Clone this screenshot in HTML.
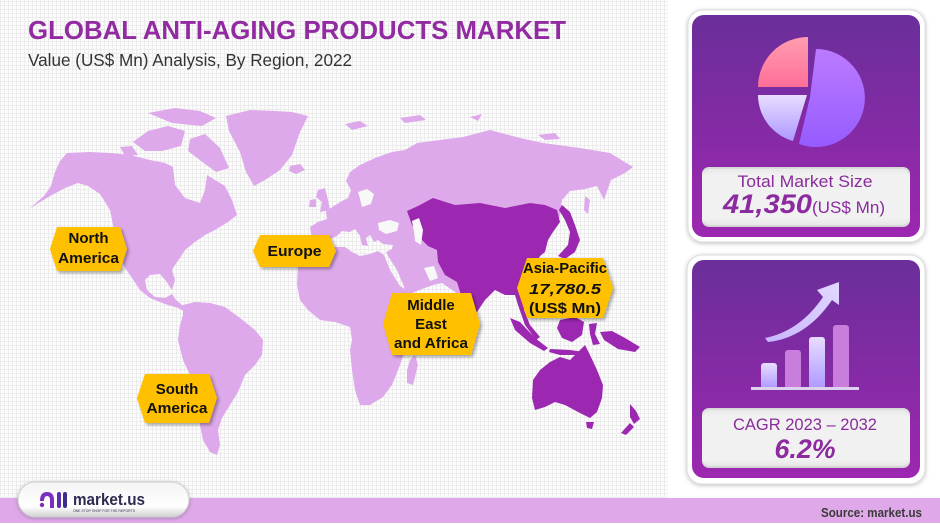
<!DOCTYPE html>
<html><head><meta charset="utf-8">
<style>
html,body{margin:0;padding:0;}
body{width:940px;height:525px;overflow:hidden;background:#fff;position:relative;}
.grid{position:absolute;left:0;top:0;width:668px;height:498px;
background-color:#fcfcfc;
background-image:repeating-linear-gradient(0deg,#ececec 0,#ececec 1px,transparent 1px,transparent 4px),repeating-linear-gradient(90deg,#ececec 0,#ececec 1px,transparent 1px,transparent 4px);}
svg{position:absolute;left:0;top:0;}
text{font-family:"Liberation Sans",sans-serif;}
</style></head>
<body>
<div class="grid"></div>
<svg width="940" height="525" viewBox="0 0 940 525" xmlns="http://www.w3.org/2000/svg">
<defs>
<linearGradient id="card" x1="0" y1="0" x2="0" y2="1">
<stop offset="0" stop-color="#6a2e9a"/><stop offset="1" stop-color="#9d27b0"/>
</linearGradient>
<linearGradient id="pink" x1="0" y1="0" x2="0" y2="1">
<stop offset="0" stop-color="#ff9db0"/><stop offset="1" stop-color="#ff6f98"/>
</linearGradient>
<linearGradient id="lav" x1="0" y1="0" x2="0" y2="1">
<stop offset="0" stop-color="#e8ddff"/><stop offset="1" stop-color="#ad98ff"/>
</linearGradient>
<linearGradient id="vio" x1="0" y1="0" x2="0" y2="1">
<stop offset="0" stop-color="#bb7bff"/><stop offset="1" stop-color="#965bff"/>
</linearGradient>
<linearGradient id="arrow" x1="0" y1="1" x2="1" y2="0">
<stop offset="0" stop-color="#c8b6ff"/><stop offset="1" stop-color="#e2d8ff"/>
</linearGradient>
<linearGradient id="box" x1="0" y1="0" x2="0" y2="1">
<stop offset="0" stop-color="#d6d6d6"/><stop offset="0.15" stop-color="#f1f1f1"/><stop offset="0.85" stop-color="#f1f1f1"/><stop offset="1" stop-color="#d0d0d0"/>
</linearGradient>
<linearGradient id="pill" x1="0" y1="0" x2="0" y2="1">
<stop offset="0" stop-color="#f4f4f4"/><stop offset="0.7" stop-color="#ffffff"/><stop offset="1" stop-color="#cfcfcf"/>
</linearGradient>
<filter id="sh" x="-20%" y="-20%" width="150%" height="150%">
<feDropShadow dx="2" dy="2" stdDeviation="1.5" flood-color="#000" flood-opacity="0.35"/>
</filter>
<filter id="sh2" x="-10%" y="-10%" width="120%" height="120%">
<feDropShadow dx="0" dy="1" stdDeviation="2" flood-color="#000" flood-opacity="0.25"/>
</filter>
</defs>

<!-- Title -->
<text x="28" y="39" font-size="26" font-weight="bold" fill="#922aa1" textLength="538" lengthAdjust="spacingAndGlyphs">GLOBAL ANTI-AGING PRODUCTS MARKET</text>
<text x="28" y="66" font-size="17.5" fill="#333" textLength="324" lengthAdjust="spacingAndGlyphs">Value (US$ Mn) Analysis, By Region, 2022</text>

<!-- MAP light -->
<g fill="#dea9ea">
<!-- North America -->
<polygon points="67,153 90,152 110,153 130,155 150,160 165,163 173,167 175,185 185,198 200,203 205,190 207,175 215,180 225,186 232,200 237,215 228,222 215,230 205,235 195,242 185,250 180,258 175,265 172,270 175,280 172,290 166,281 160,274 150,275 145,280 147,290 155,297 165,298 172,294 176,300 182,305 190,307 196,312 189,314 178,308 165,304 150,298 140,290 132,278 125,268 120,255 117,240 113,225 110,210 100,194 88,186 78,183 65,188 52,195 40,202 29,209 44,196 51,186 55,172 60,161"/>
<!-- Arctic islands -->
<polygon points="133,142 148,131 168,126 185,131 181,146 162,151 145,151"/>
<polygon points="148,113 175,108 200,111 216,118 202,126 172,123"/>
<polygon points="190,139 205,134 220,148 229,168 216,172 201,161 188,151"/>
<polygon points="120,147 132,146 138,155 125,156"/>
<!-- Greenland -->
<polygon points="226,116 250,110 275,111 292,112 308,116 300,132 292,155 280,170 265,180 254,186 246,172 240,152 229,131"/>
<!-- Iceland -->
<polygon points="290,166 300,164 305,170 296,174 289,171"/>
<!-- UK/Ireland -->
<polygon points="318,190 325,188 328,200 330,210 320,212 322,202 316,197"/>
<polygon points="310,200 316,199 316,207 309,207"/>
<!-- Eurasia -->
<polygon points="312,239 310,227 318,222 327,219 326,211 334,206 342,201 348,198 351,190 346,181 350,172 360,165 375,158 392,152 405,150 417,143 440,140 463,137 490,130 520,138 543,143 580,148 610,153 633,167 625,173 611,180 604,200 597,186 585,189 570,191 562,200 560,215 557,225 548,235 543,240 540,250 530,265 470,282 463,300 455,292 442,283 433,285 422,289 410,294 405,289 397,270 388,256 386,252 392,249 393,245 383,244 378,240 374,242 370,235 366,238 368,246 362,245 360,236 355,229 350,232 342,231 337,236 327,240 318,241"/>
<!-- Arctic islands Eurasia -->
<polygon points="345,124 360,121 368,126 352,130"/>
<polygon points="400,118 420,115 426,120 405,123"/>
<polygon points="470,117 482,114 478,121"/>
<polygon points="538,135 555,133 560,139 545,140"/>
<!-- Africa -->
<polygon points="298,266 301,257 310,251 322,248 335,247 345,247 352,252 360,256 370,254 378,251 384,255 390,270 400,286 410,292 415,298 428,298 420,315 410,330 407,345 400,365 392,385 383,397 370,405 360,405 355,390 352,370 350,350 352,340 350,327 335,322 320,320 308,310 300,300 297,285"/>
<polygon points="410,360 415,355 418,365 413,385 407,383 407,370"/>
<!-- South America -->
<polygon points="183,305 195,302 210,303 225,307 240,318 255,330 263,340 262,355 255,365 245,375 238,392 230,405 222,418 218,430 220,445 217,455 210,452 203,440 200,425 198,405 197,395 190,375 183,360 178,340 180,325 183,315"/>
<!-- Sakhalin -->
<polygon points="585,196 590,200 588,214 584,210"/>
</g>
<!-- inland water (Baltic, Black Sea) -->
<g fill="#f8f8f8">
<polygon points="358,192 367,189 374,194 371,204 362,207 360,199"/>
<polygon points="378,223 390,220 399,223 397,231 386,234 379,230"/>
<polygon points="424,268 434,266 438,278 430,281"/>
</g>

<!-- MAP dark Asia-Pacific -->
<g fill="#9c27b0">
<polygon points="407,211 418,206 433,198 455,205 480,203 505,208 530,203 545,205 557,210 560,222 553,232 548,240 545,252 540,256 537,262 533,270 528,280 520,285 530,285 540,290 545,305 538,315 530,312 527,302 524,310 530,325 540,337 536,340 525,325 518,305 515,295 505,295 495,290 485,300 475,315 468,325 463,310 461,295 457,282 445,275 438,262 437,250 428,246 420,238 412,225"/>
<!-- Japan -->
<polygon points="562,205 570,212 575,225 580,240 575,252 565,259 558,256 568,245 570,232 565,220 559,210"/>
<!-- Taiwan -->
<polygon points="545,280 549,279 548,288 544,287"/>
<!-- Philippines -->
<polygon points="558,288 566,290 570,302 575,312 568,316 562,305 557,296"/>
<!-- Sumatra -->
<polygon points="510,318 520,322 535,338 548,348 544,351 530,343 515,330"/>
<!-- Java -->
<polygon points="550,349 570,350 584,352 582,355 560,355 549,352"/>
<!-- Borneo -->
<polygon points="560,320 575,317 584,322 582,335 572,342 562,338 557,328"/>
<!-- Sulawesi -->
<polygon points="589,324 597,323 595,334 600,344 593,345 590,334"/>
<!-- New Guinea -->
<polygon points="600,332 612,331 625,338 640,347 635,352 618,349 604,340"/>
<!-- Australia -->
<polygon points="533,380 540,370 550,362 560,357 570,360 578,352 585,345 590,355 597,370 603,385 602,398 597,412 590,418 578,412 565,405 555,402 545,407 535,410 532,398"/>
<polygon points="586,422 594,422 592,429 587,428"/>
<!-- New Zealand -->
<polygon points="630,404 636,411 640,419 634,424 630,417"/>
<polygon points="630,423 634,427 626,435 621,433"/>
</g>
<!-- Caspian -->
<polygon points="412,221 419,218 423,230 421,245 415,241 414,232" fill="#f8f8f8"/>

<!-- Labels -->
<g filter="url(#sh)" fill="#ffc000">
<polygon points="50,249 57,227 120,227 127,249 120,271 57,271"/>
<polygon points="253,251 260,235 329,235 336,251 329,267 260,267"/>
<polygon points="137,398 145,374 209,374 217,398 209,423 145,423"/>
<polygon points="383,324 392,293 471,293 480,324 471,355 392,355"/>
<polygon points="517,288 527,258 603,258 613,288 603,318 527,318"/>
</g>
<g font-weight="bold" font-size="15" fill="#111" text-anchor="middle">
<text x="88.5" y="243">North</text>
<text x="88.5" y="263" textLength="61" lengthAdjust="spacingAndGlyphs">America</text>
<text x="294.5" y="256" textLength="54" lengthAdjust="spacingAndGlyphs">Europe</text>
<text x="177" y="394">South</text>
<text x="177" y="413" textLength="61" lengthAdjust="spacingAndGlyphs">America</text>
<text x="431" y="310">Middle</text>
<text x="431" y="329">East</text>
<text x="431" y="348" textLength="74" lengthAdjust="spacingAndGlyphs">and Africa</text>
<text x="565" y="273" textLength="84" lengthAdjust="spacingAndGlyphs">Asia-Pacific</text>
<text x="565" y="294" font-style="italic" textLength="72" lengthAdjust="spacingAndGlyphs">17,780.5</text>
<text x="565" y="313" textLength="72" lengthAdjust="spacingAndGlyphs">(US$ Mn)</text>
</g>

<!-- Card 1 -->
<rect x="688" y="10" width="237" height="232" rx="15" fill="#fff" stroke="#dcdcdc" stroke-width="1" filter="url(#sh2)"/>
<rect x="692" y="15" width="228" height="222" rx="12" fill="url(#card)"/>
<path d="M808,37 L808,87 L758,87 A50,50 0 0 1 808,37 Z" fill="url(#pink)"/>
<path d="M758,95 L807,95 L793,141 A48,48 0 0 1 758,95 Z" fill="url(#lav)"/>
<path d="M816,49 A49,49 0 1 1 799,144 L810,97 Z" fill="url(#vio)"/>
<rect x="702" y="167" width="208" height="60" rx="7" fill="url(#box)"/>
<rect x="704" y="169" width="204" height="56" rx="6" fill="#f1f1f1" opacity="0.6"/>
<text x="805" y="187" font-size="17" fill="#8a2c9c" text-anchor="middle" textLength="135" lengthAdjust="spacingAndGlyphs">Total Market Size</text>
<text x="723" y="213" font-size="27" font-weight="bold" font-style="italic" fill="#8c2a9f" textLength="89" lengthAdjust="spacingAndGlyphs">41,350</text>
<text x="812" y="213" font-size="17" fill="#8c2a9f" textLength="73" lengthAdjust="spacingAndGlyphs">(US$ Mn)</text>

<!-- Card 2 -->
<rect x="687" y="255" width="238" height="229" rx="15" fill="#fff" stroke="#dcdcdc" stroke-width="1" filter="url(#sh2)"/>
<rect x="692" y="260" width="228" height="218" rx="12" fill="url(#card)"/>
<path d="M765,338 Q800,331 823,297 L817,290 L839,282 L839,305 L832,300 Q806,338 768,342 Z" fill="url(#arrow)"/>
<rect x="761" y="363" width="16" height="26" rx="3" fill="url(#lav)"/>
<rect x="785" y="350" width="16" height="39" rx="3" fill="#c97edd"/>
<rect x="809" y="337" width="16" height="52" rx="3" fill="url(#lav)"/>
<rect x="833" y="325" width="16" height="64" rx="3" fill="#c97edd"/>
<rect x="751" y="387" width="108" height="3" fill="#dcd2f0"/>
<rect x="702" y="408" width="208" height="60" rx="7" fill="url(#box)"/>
<rect x="704" y="410" width="204" height="56" rx="6" fill="#f1f1f1" opacity="0.6"/>
<text x="805" y="430" font-size="17" fill="#8a2c9c" text-anchor="middle" textLength="144" lengthAdjust="spacingAndGlyphs">CAGR 2023 – 2032</text>
<text x="805" y="458" font-size="27" font-weight="bold" font-style="italic" fill="#8c2a9f" text-anchor="middle" textLength="61" lengthAdjust="spacingAndGlyphs">6.2%</text>

<!-- Footer -->
<rect x="0" y="498" width="940" height="25" fill="#dfa9e9"/>
<text x="922" y="517" font-size="12.5" font-weight="bold" fill="#3a3a3a" text-anchor="end" textLength="101" lengthAdjust="spacingAndGlyphs">Source: market.us</text>

<!-- Logo pill -->
<rect x="18" y="482" width="171" height="35" rx="17.5" fill="url(#pill)" stroke="#cfcfcf" stroke-width="1" filter="url(#sh2)"/>
<g fill="#7b2fbe">
<circle cx="42" cy="505" r="2.2"/>
<path d="M40,501 Q40,492 47,492 Q54,492 54,500 L54,508 L50,508 L50,500 Q50,496 47,496 Q44,496 44,501 Z"/>
</g>
<rect x="57" y="492" width="4" height="16" rx="2" fill="#5a2fb0"/>
<rect x="63" y="492" width="4" height="16" rx="2" fill="#3b2f8a"/>
<text x="73" y="505" font-size="17" font-weight="bold" fill="#2e2b50" textLength="72" lengthAdjust="spacingAndGlyphs">market.us</text>
<text x="73" y="512" font-size="4" fill="#2e2b50" textLength="62" lengthAdjust="spacingAndGlyphs">ONE STOP SHOP FOR THE REPORTS</text>
</svg>
</body></html>
